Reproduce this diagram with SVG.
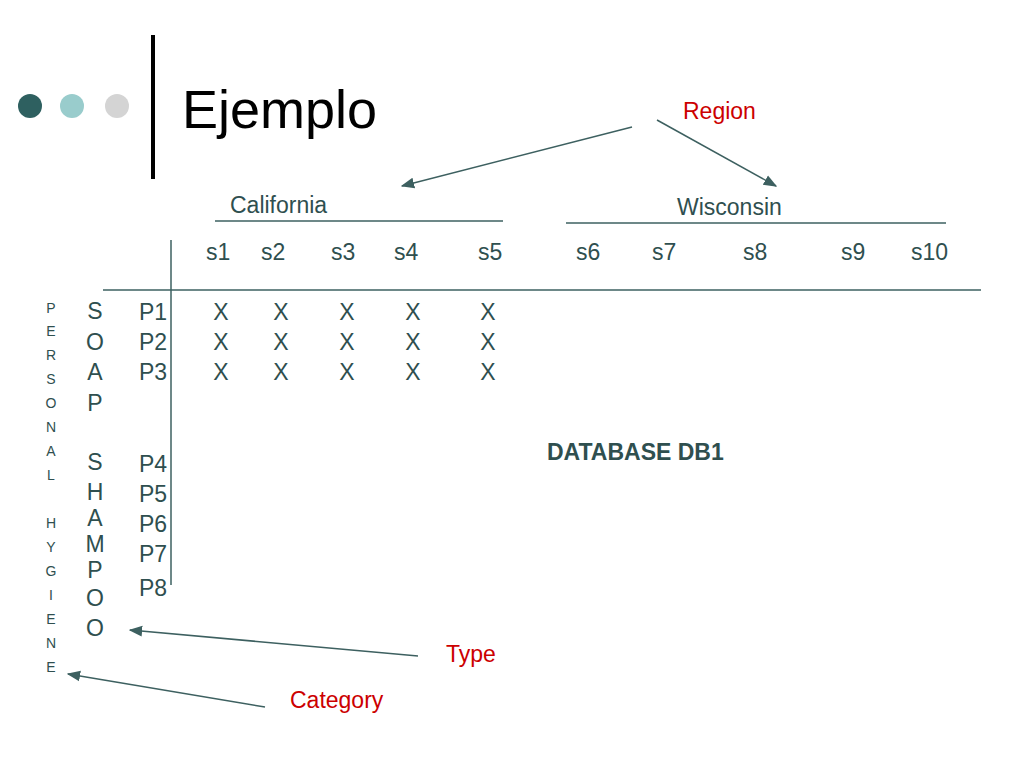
<svg xmlns="http://www.w3.org/2000/svg" width="1024" height="768" viewBox="0 0 1024 768">
<style>
text{font-family:"Liberation Sans",Arial,sans-serif;fill:#2f4f4f}
.t{fill:#000;font-size:54px}
.r{fill:#cc0000;font-size:23px}
.h{font-size:23px}
.m{font-size:23px;text-anchor:middle}
.v{font-size:14px;text-anchor:middle}
.ln{stroke:#3d6060;stroke-width:1.5;fill:none}
</style>
<defs><marker id="a" viewBox="0 0 10 10" refX="9" refY="5" markerWidth="9" markerHeight="9" orient="auto"><path d="M0,1 L10,5 L0,9 z" fill="#3d6060"/></marker></defs>
<rect width="1024" height="768" fill="#fff"/>
<g id="deco">
<circle cx="30" cy="106" r="12" fill="#2e6060"/>
<circle cx="72" cy="106" r="12" fill="#99cccc"/>
<circle cx="117" cy="106" r="12" fill="#d4d4d4"/>
<rect x="151" y="35" width="4" height="144" fill="#000"/>
<text class="t" x="182" y="128">Ejemplo</text>
</g>
<g id="lines">
<line class="ln" x1="215" y1="221" x2="503" y2="221"/>
<line class="ln" x1="566" y1="223" x2="946" y2="223"/>
<line class="ln" x1="103" y1="290" x2="981" y2="290"/>
<line class="ln" x1="171" y1="240" x2="171" y2="585"/>
</g>
<g id="connectors">
<line class="ln" x1="632" y1="127" x2="402" y2="186" marker-end="url(#a)"/>
<line class="ln" x1="657" y1="120" x2="776" y2="186" marker-end="url(#a)"/>
<line class="ln" x1="418" y1="656" x2="130" y2="630" marker-end="url(#a)"/>
<line class="ln" x1="265" y1="707" x2="68" y2="674" marker-end="url(#a)"/>
</g>
<g id="labels">
<text class="r" x="683" y="119">Region</text>
<text class="r" x="446" y="662">Type</text>
<text class="r" x="290" y="708">Category</text>
<text class="h" x="230" y="213">California</text>
<text class="h" x="677" y="215">Wisconsin</text>
<text x="547" y="460" font-size="23" font-weight="bold">DATABASE DB1</text>
</g>
<g id="headers" class="h">
<text class="h" x="206" y="260">s1</text><text class="h" x="261" y="260">s2</text><text class="h" x="331" y="260">s3</text><text class="h" x="394" y="260">s4</text><text class="h" x="478" y="260">s5</text>
<text class="h" x="576" y="260">s6</text><text class="h" x="652" y="260">s7</text><text class="h" x="743" y="260">s8</text><text class="h" x="841" y="260">s9</text><text class="h" x="911" y="260">s10</text>
</g>
<g id="category">
<text class="v" x="51" y="313">P</text><text class="v" x="51" y="336">E</text><text class="v" x="51" y="360">R</text><text class="v" x="51" y="384">S</text><text class="v" x="51" y="408">O</text><text class="v" x="51" y="432">N</text><text class="v" x="51" y="456">A</text><text class="v" x="51" y="480">L</text>
<text class="v" x="51" y="528">H</text><text class="v" x="51" y="552">Y</text><text class="v" x="51" y="576">G</text><text class="v" x="51" y="600">I</text><text class="v" x="51" y="624">E</text><text class="v" x="51" y="648">N</text><text class="v" x="51" y="672">E</text>
</g>
<g id="types">
<text class="m" x="95" y="319">S</text><text class="m" x="95" y="350">O</text><text class="m" x="95" y="380">A</text><text class="m" x="95" y="411">P</text>
<text class="m" x="95" y="470" font-size="18">S</text><text class="m" x="95" y="500" font-size="18">H</text><text class="m" x="95" y="526" font-size="18">A</text><text class="m" x="95" y="552" font-size="18">M</text><text class="m" x="95" y="578" font-size="18">P</text><text class="m" x="95" y="606" font-size="18">O</text><text class="m" x="95" y="636" font-size="18">O</text>
</g>
<g id="products">
<text class="h" x="139" y="320">P1</text><text class="h" x="139" y="350">P2</text><text class="h" x="139" y="380">P3</text>
<text class="h" x="139" y="472">P4</text><text class="h" x="139" y="502">P5</text><text class="h" x="139" y="532">P6</text><text class="h" x="139" y="562">P7</text><text class="h" x="139" y="596">P8</text>
</g>
<g id="marks">
<text class="m" x="221" y="320">X</text><text class="m" x="281" y="320">X</text><text class="m" x="347" y="320">X</text><text class="m" x="413" y="320">X</text><text class="m" x="488" y="320">X</text>
<text class="m" x="221" y="350">X</text><text class="m" x="281" y="350">X</text><text class="m" x="347" y="350">X</text><text class="m" x="413" y="350">X</text><text class="m" x="488" y="350">X</text>
<text class="m" x="221" y="380">X</text><text class="m" x="281" y="380">X</text><text class="m" x="347" y="380">X</text><text class="m" x="413" y="380">X</text><text class="m" x="488" y="380">X</text>
</g>
</svg>
